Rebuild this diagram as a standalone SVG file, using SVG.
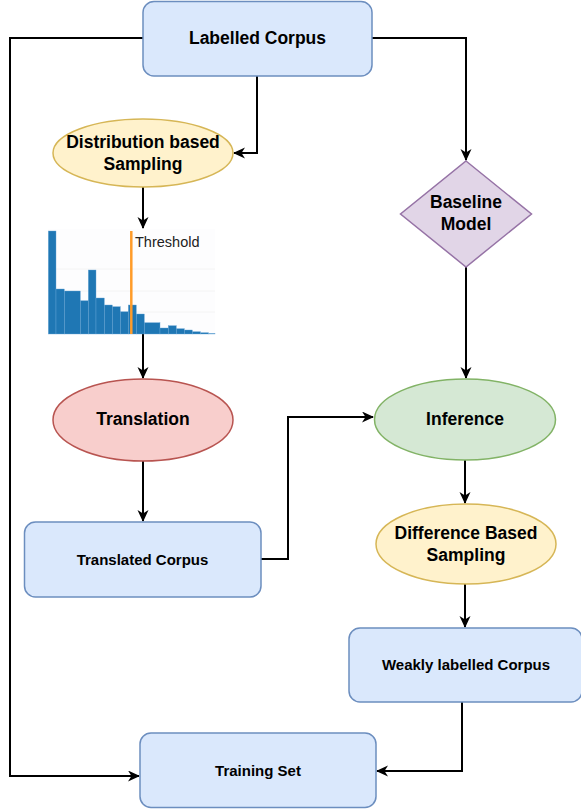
<svg xmlns="http://www.w3.org/2000/svg" width="581" height="809" viewBox="0 0 581 809">
<defs>
<marker id="arr" markerWidth="13" markerHeight="12" refX="11" refY="5.5" orient="auto" markerUnits="userSpaceOnUse">
<path d="M0,0 L12,5.5 L0,11 L3.5,5.5 Z" fill="#000"/>
</marker>
<style>
.box{fill:#dae8fc;stroke:#6c8ebf;stroke-width:1.5}
.yel{fill:#fff2cc;stroke:#d6b656;stroke-width:1.5}
.red{fill:#f8cecc;stroke:#b85450;stroke-width:1.5}
.grn{fill:#d5e8d4;stroke:#82b366;stroke-width:1.5}
.pur{fill:#e1d5e7;stroke:#9673a6;stroke-width:1.5}
.t{font-family:"Liberation Sans",Arial,sans-serif;font-weight:bold;text-anchor:middle;fill:#000}
.big{font-size:17.5px}
.sm{font-size:15px}
.c{fill:none;stroke:#000;stroke-width:2;marker-end:url(#arr)}
.bar{fill:#1f77b4;stroke:#6aa6d6;stroke-width:0.4}
</style>
</defs>
<rect width="581" height="809" fill="#fff"/>
<g id="connectors">
<path class="c" d="M143,38 H10 V776 H139"/>
<path class="c" d="M257,76 V153 H234"/>
<path class="c" d="M372,38 H466 V160"/>
<path class="c" d="M143,187 V228"/>
<path class="c" d="M143,334 V378"/>
<path class="c" d="M143,461 V521"/>
<path class="c" d="M261,559 H288 V417 H373"/>
<path class="c" d="M466,267 V378"/>
<path class="c" d="M465,460 V503"/>
<path class="c" d="M465,584 V627"/>
<path class="c" d="M462,702 V771 H377"/>
</g>
<g id="labelled-corpus">
<rect class="box" x="143" y="1.5" width="229" height="74.5" rx="11"/>
<text class="t big" x="257.5" y="44">Labelled Corpus</text>
</g>
<g id="distribution-sampling">
<ellipse class="yel" cx="143" cy="153" rx="90" ry="34"/>
<text class="t big" x="143" y="148">Distribution based</text>
<text class="t big" x="143" y="169.5">Sampling</text>
</g>
<g id="histogram">
<rect x="48" y="229" width="167" height="105" fill="#fdfdfe"/>
<g stroke="#f4f4f4" stroke-width="1">
<line x1="48" y1="269" x2="215" y2="269"/>
<line x1="48" y1="291" x2="215" y2="291"/>
<line x1="48" y1="312" x2="215" y2="312"/>
</g>
<rect class="bar" x="48.3" y="231" width="7.7" height="103"/>
<rect class="bar" x="56" y="289" width="8.3" height="45"/>
<rect class="bar" x="64.3" y="291" width="16" height="43"/>
<rect class="bar" x="80.3" y="300.7" width="8" height="33.3"/>
<rect class="bar" x="88.3" y="270" width="7.7" height="64"/>
<rect class="bar" x="96" y="298" width="8.3" height="36"/>
<rect class="bar" x="104.3" y="305" width="8" height="29"/>
<rect class="bar" x="112.3" y="306.7" width="8" height="27.3"/>
<rect class="bar" x="120.3" y="311.7" width="8" height="22.3"/>
<rect class="bar" x="128.3" y="305" width="8" height="29"/>
<rect class="bar" x="136.3" y="314" width="8" height="20"/>
<rect class="bar" x="144.3" y="322.7" width="15.7" height="11.3"/>
<rect class="bar" x="160" y="328" width="8.3" height="6"/>
<rect class="bar" x="168.3" y="325.7" width="8" height="8.3"/>
<rect class="bar" x="176.3" y="328.7" width="8" height="5.3"/>
<rect class="bar" x="184.3" y="330" width="8" height="4"/>
<rect class="bar" x="192.3" y="331.7" width="8" height="2.3"/>
<rect class="bar" x="200.3" y="332.7" width="8" height="1.3"/>
<rect class="bar" x="208.3" y="333.5" width="6.7" height="0.5"/>
<line x1="131.3" y1="231" x2="131.3" y2="334" stroke="#ff9c2a" stroke-width="2.5"/>
<text x="135" y="246.5" font-family="'Liberation Sans',Arial,sans-serif" font-size="14.5" fill="#222">Threshold</text>
</g>
<g id="translation">
<ellipse class="red" cx="143" cy="420" rx="90" ry="41"/>
<text class="t big" x="143" y="425">Translation</text>
</g>
<g id="translated-corpus">
<rect class="box" x="24.5" y="522" width="236.5" height="75" rx="11"/>
<text class="t sm" x="142.5" y="565">Translated Corpus</text>
</g>
<g id="baseline-model">
<path class="pur" d="M466,161 L531.5,214 L466,267 L400.5,214 Z"/>
<text class="t big" x="466" y="208">Baseline</text>
<text class="t big" x="466" y="230">Model</text>
</g>
<g id="inference">
<ellipse class="grn" cx="465" cy="419.5" rx="90.5" ry="40.5"/>
<text class="t big" x="465" y="425">Inference</text>
</g>
<g id="difference-sampling">
<ellipse class="yel" cx="466" cy="544" rx="90" ry="40"/>
<text class="t big" x="466" y="539">Difference Based</text>
<text class="t big" x="466" y="560.5">Sampling</text>
</g>
<g id="weakly-labelled-corpus">
<rect class="box" x="349" y="628" width="233" height="74" rx="11"/>
<text class="t sm" x="466" y="670">Weakly labelled Corpus</text>
</g>
<g id="training-set">
<rect class="box" x="140" y="733" width="236" height="74.5" rx="11"/>
<text class="t sm" x="258" y="776">Training Set</text>
</g>
</svg>
